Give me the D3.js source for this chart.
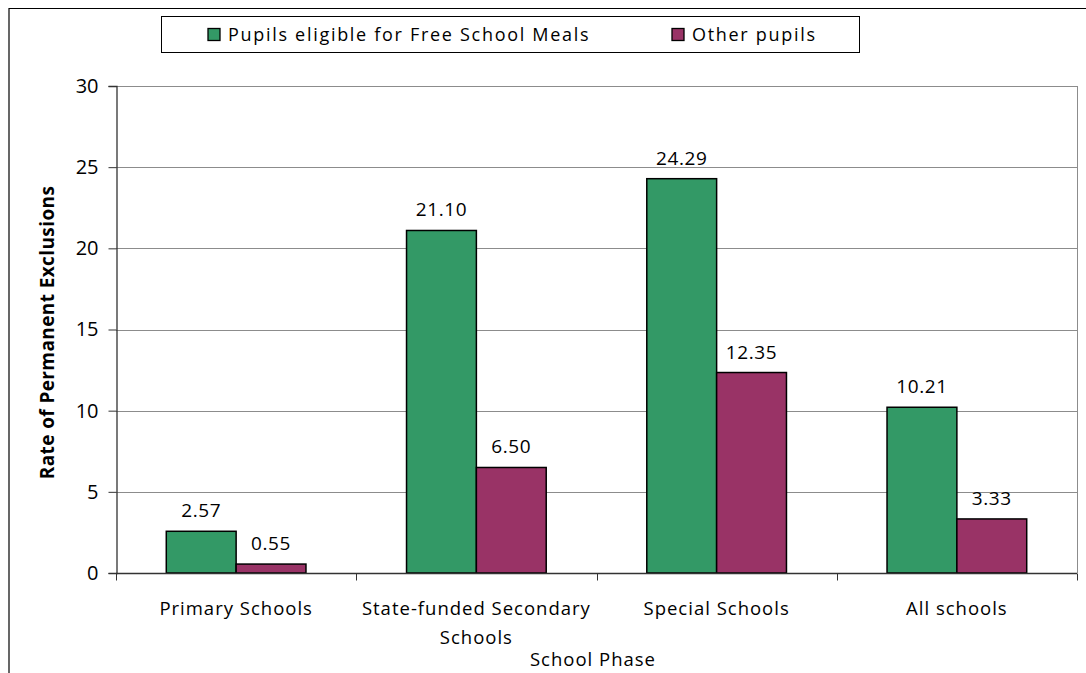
<!DOCTYPE html>
<html><head><meta charset="utf-8">
<script src="https://cdn.jsdelivr.net/npm/d3@7"></script>
<style>body{margin:0;background:#fff;} text{font-family:"Open Sans",sans-serif;fill:#000;}</style>
</head><body>
<svg id="c" width="1086" height="673"></svg>
<script>
const categories = [["Primary Schools"], ["State-funded Secondary", "Schools"], ["Special Schools"], ["All schools"]];
const seriesNames = ["Pupils eligible for Free School Meals", "Other pupils"];
const fsmValues = [2.57, 21.10, 24.29, 10.21];
const otherValues = [0.55, 6.50, 12.35, 3.33];
const yTicks = [0, 5, 10, 15, 20, 25, 30];
const colors = ["#339966", "#993366"];

const svg = d3.select("#c");
svg.append("rect").attr("width",1086).attr("height",673).attr("fill","#fff");
// outer frame (cropped)
svg.append("line").attr("x1",9).attr("x2",1086).attr("y1",8.5).attr("y2",8.5).attr("stroke","#000").attr("stroke-width",1.2);
svg.append("line").attr("x1",9).attr("x2",9).attr("y1",8).attr("y2",673).attr("stroke","#000").attr("stroke-width",1.2);

const L=116, R=1077, T=86, B=573;
const x = d3.scaleBand().domain(d3.range(categories.length)).range([L,R]).paddingInner(0).paddingOuter(0);
const y = d3.scaleLinear().domain([0,30]).range([B,T]);
const inner = d3.scaleBand().domain([0,1]).range([0,x.bandwidth()]).paddingInner(0).paddingOuter(0.72);

// gridlines
svg.append("g").selectAll("line").data(yTicks.filter(d=>d>0)).join("line")
  .attr("x1",L).attr("x2",R).attr("y1",d=>Math.round(y(d))+0.5).attr("y2",d=>Math.round(y(d))+0.5)
  .attr("stroke","#8c8c8c").attr("stroke-width",1);
svg.append("line").attr("x1",R+0.5).attr("x2",R+0.5).attr("y1",T).attr("y2",B).attr("stroke","#8c8c8c");

// bars
const series = [fsmValues, otherValues];
series.forEach((vals,si)=>{
  svg.append("g").selectAll("rect").data(vals).join("rect")
    .attr("x",(d,i)=>x(i)+inner(si)).attr("width",inner.bandwidth())
    .attr("y",d=>y(d)).attr("height",d=>y(0)-y(d))
    .attr("fill",colors[si]).attr("stroke","#000").attr("stroke-width",1.5);
  svg.append("g").selectAll("text").data(vals).join("text")
    .attr("x",(d,i)=>x(i)+inner(si)+inner.bandwidth()/2).attr("y",d=>y(d)-14)
    .attr("text-anchor","middle").attr("font-size",19).attr("letter-spacing","0.6px").text(d=>d.toFixed(2));
});

// y axis
const yAxis = d3.axisLeft(y).tickValues(yTicks).tickSize(8).tickPadding(10);
const gy = svg.append("g").attr("transform",`translate(${L+0.5},0)`).call(yAxis);
gy.select(".domain").attr("stroke","#333").attr("stroke-width",1.3);
gy.selectAll(".tick line").attr("stroke","#333");
gy.selectAll("text").attr("font-size",20).attr("font-family","Open Sans").attr("fill","#000");

// x axis
const gx = svg.append("g").attr("transform",`translate(0,${B+0.5})`);
gx.append("line").attr("x1",L).attr("x2",R).attr("stroke","#333").attr("stroke-width",1.3);
const bounds = d3.range(categories.length+1).map(i=> i<categories.length ? x(i) : R);
gx.selectAll(".tk").data(bounds).join("line").attr("class","tk")
  .attr("x1",d=>Math.round(d)+0.5).attr("x2",d=>Math.round(d)+0.5).attr("y1",0).attr("y2",7).attr("stroke","#333");
categories.forEach((lines,i)=>{
  const t = svg.append("text").attr("x",x(i)+x.bandwidth()/2).attr("y",615)
    .attr("text-anchor","middle").attr("font-size",18.5).attr("letter-spacing","1px");
  lines.forEach((ln,j)=>t.append("tspan").attr("x",x(i)+x.bandwidth()/2).attr("dy",j?29:0).text(ln));
});

// axis titles
svg.append("text").attr("x",593).attr("y",666).attr("text-anchor","middle").attr("font-size",18.5)
  .attr("letter-spacing","1px").text("School Phase");
svg.append("text").attr("transform",`translate(54,${(T+B)/2+3}) rotate(-90)`).attr("text-anchor","middle")
  .attr("font-size",19).attr("font-weight","bold").attr("letter-spacing","0.4px").text("Rate of Permanent Exclusions");

// legend
svg.append("rect").attr("x",161.5).attr("y",16.5).attr("width",698).attr("height",36).attr("fill","#fff").attr("stroke","#000").attr("stroke-width",1);
const legX = [208, 672];
seriesNames.forEach((n,i)=>{
  svg.append("rect").attr("x",legX[i]).attr("y",28.5).attr("width",12).attr("height",12)
    .attr("fill",colors[i]).attr("stroke","#000").attr("stroke-width",1.3);
  svg.append("text").attr("x",legX[i]+20).attr("y",41).attr("font-size",18).attr("letter-spacing","1.7px").text(n);
});
</script>
</body></html>
